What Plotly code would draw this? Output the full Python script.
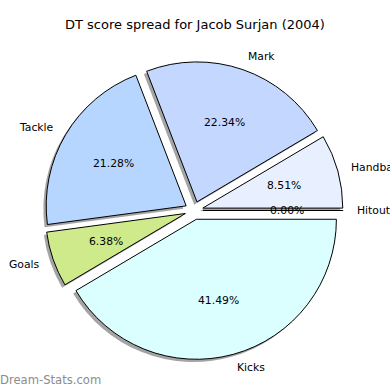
import math
import plotly.graph_objects as go

# ---- data ----
labels = ["Hitout", "Handball", "Mark", "Tackle", "Goals", "Kicks"]
values = [0, 8, 21, 20, 6, 39]
colors = ["#EEF4FF", "#E8F0FF", "#C4D8FF", "#B6D6FF", "#CFEA8A", "#DBFFFF"]
title_text = "DT score spread for Jacob Surjan (2004)"
watermark = "Dream-Stats.com"

# ---- layout geometry (pixels) ----
W = H = 390
CX, CY, R = 194.0, 210.5, 140.0
EXPLODE = 0.065          # fraction of radius
SHADOW = 0.02            # shadow offset, fraction of radius
PCT_DIST, LABEL_DIST = 0.6, 1.1
FONT = "DejaVu Sans"


def domain(cx, cy):
    half = R * (1 + EXPLODE)
    return dict(x=[(cx - half) / W, (cx + half) / W],
                y=[1 - (cy + half) / H, 1 - (cy - half) / H])


fig = go.Figure()
# shadow
fig.add_trace(go.Pie(
    values=values, labels=labels, sort=False, direction="counterclockwise",
    rotation=90, pull=[EXPLODE] * len(values), textinfo="none", hoverinfo="skip",
    marker=dict(colors=["rgba(90,90,90,0.55)"] * len(values), line=dict(width=0)),
    domain=domain(CX - SHADOW * R, CY + SHADOW * R), showlegend=False))
# pie
fig.add_trace(go.Pie(
    values=values, labels=labels, sort=False, direction="counterclockwise",
    rotation=90, pull=[EXPLODE] * len(values), textinfo="none", hoverinfo="label+percent",
    marker=dict(colors=colors, line=dict(color="black", width=1)),
    domain=domain(CX, CY), showlegend=False))

annotations = []
total = float(sum(values))
cum = 0.0
base = dict(xref="paper", yref="paper", showarrow=False, borderpad=0, borderwidth=0)
for lab, v in zip(labels, values):
    theta = 2 * math.pi * (cum + v / 2) / total
    cum += v
    c, s = math.cos(theta), math.sin(theta)
    ox, oy = CX + EXPLODE * R * c, CY - EXPLODE * R * s
    # percent
    px, py = ox + PCT_DIST * R * c, oy - PCT_DIST * R * s
    annotations.append(dict(base, x=px / W, y=1 - py / H,
                            text=f"{100 * v / total:.2f}%",
                            xanchor="center", yanchor="middle",
                            font=dict(family=FONT, size=10.8, color="black")))
    # label
    lx, ly = ox + LABEL_DIST * R * c, oy - LABEL_DIST * R * s
    annotations.append(dict(base, x=lx / W, y=1 - ly / H, text=lab,
                            xanchor="left" if c > 0 else "right", yanchor="middle",
                            font=dict(family=FONT, size=10.8, color="black")))

annotations.append(dict(base, x=0.5, y=1 - 25 / H, text=title_text,
                        xanchor="center", yanchor="middle",
                        font=dict(family=FONT, size=13, color="black")))
annotations.append(dict(base, x=0, y=1 - 380 / H, text=watermark,
                        xanchor="left", yanchor="middle",
                        font=dict(family=FONT, size=11.6, color="#8c8c8c")))

fig.update_layout(width=W, height=H, margin=dict(l=0, r=0, t=0, b=0),
                  paper_bgcolor="white", plot_bgcolor="white",
                  annotations=annotations, showlegend=False)
fig.write_html("out.html", config={"displayModeBar": False},
               post_script="document.body.style.margin='0';document.body.style.overflow='hidden';")
